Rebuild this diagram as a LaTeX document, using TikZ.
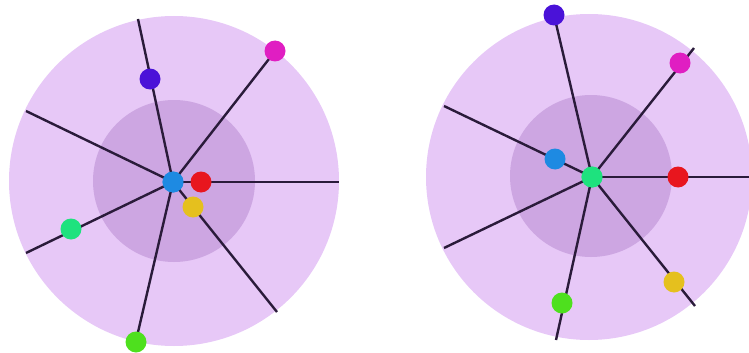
\documentclass[tikz,border=0pt]{standalone}
\definecolor{outerc}{HTML}{E7C8F7}
\definecolor{innerc}{HTML}{CDA6E2}
\definecolor{linec}{HTML}{2A1B3A}
\definecolor{dblue}{HTML}{1E8AE2}
\definecolor{dred}{HTML}{E8161E}
\definecolor{dyellow}{HTML}{E5C01E}
\definecolor{dindigo}{HTML}{4A12D8}
\definecolor{dmagenta}{HTML}{E01EC2}
\definecolor{dteal}{HTML}{1EE27E}
\definecolor{dlime}{HTML}{4EE01E}
\begin{document}
\begin{tikzpicture}[x=1pt,y=-1pt,
  dot/.style={circle,inner sep=0pt,minimum size=21pt,fill=#1},
  spoke/.style={draw=linec,line width=2.4pt}]
\useasboundingbox (0,0) rectangle (749,353);
\begin{scope}
\clip (0,0) rectangle (749,353);
% ---------- left ----------
\fill[outerc] (174,181) circle (165);
\fill[innerc] (174,181) circle (81);
\coordinate (L1) at (138,19);
\coordinate (L2) at (276,50);
\coordinate (L3) at (26,111);
\coordinate (L4) at (339,182);
\coordinate (L5) at (26,253);
\coordinate (L6) at (135,345);
\coordinate (L7) at (277,312);
\node[dot=dblue] (lc) at (173,182) {};
\foreach \e in {L1,L2,L3,L4,L5,L6,L7} \draw[spoke] (lc.center) -- (\e);
\node[dot=dblue] (lc) at (173,182) {};
\node[dot=dred] (lr) at (201,182) {};
\node[dot=dyellow] (ly) at (193,207) {};
\node[dot=dindigo] (li) at (150,79) {};
\node[dot=dmagenta] (lm) at (275,51) {};
\node[dot=dteal] (lt) at (71,229) {};
\node[dot=dlime] (ll) at (136,342) {};
% ---------- right ----------
\fill[outerc] (589,177) circle (163);
\fill[innerc] (591,176) circle (81);
\coordinate (R1) at (444,106);
\coordinate (R2) at (554,15);
\coordinate (R3) at (694,48);
\coordinate (R4) at (749,177);
\coordinate (R5) at (444,248);
\coordinate (R6) at (556,340);
\coordinate (R7) at (695,306);
\node[dot=dteal] (rc) at (592,177) {};
\foreach \e in {R1,R2,R3,R4,R5,R6,R7} \draw[spoke] (rc.center) -- (\e);
\node[dot=dteal] (rc) at (592,177) {};
\node[dot=dblue] (rb) at (555,159) {};
\node[dot=dred] (rr) at (678,177) {};
\node[dot=dindigo] (ri) at (554,15) {};
\node[dot=dmagenta] (rm) at (680,63) {};
\node[dot=dyellow] (ry) at (674,282) {};
\node[dot=dlime] (rl) at (562,303) {};
\end{scope}
\end{tikzpicture}
\end{document}
